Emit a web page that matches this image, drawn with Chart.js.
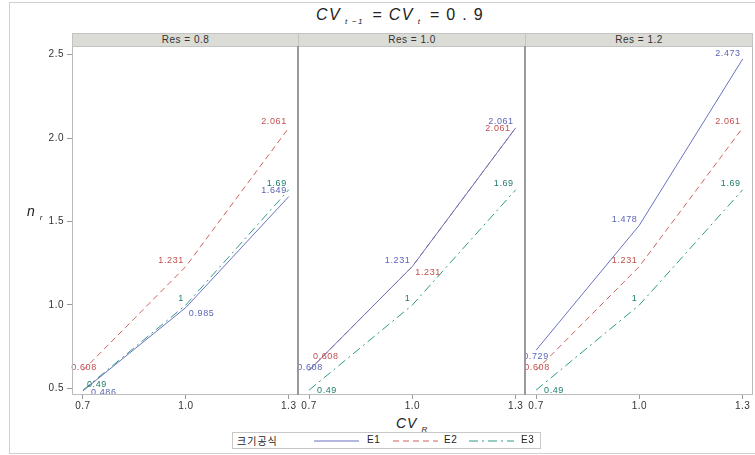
<!DOCTYPE html>
<html>
<head>
<meta charset="utf-8">
<script src="https://cdn.jsdelivr.net/npm/chart.js@4"></script>
<style>
  body { margin: 0; width: 755px; height: 455px; background: #fff; position: relative; overflow: hidden;
         font-family: "Liberation Sans", Arial, sans-serif; color: #222; }
  .abs { position: absolute; }
  .frame { left: 9px; top: 2px; width: 760px; height: 450px; border: 1px solid #d0d0d0; }
  .hdr { top: 33px; height: 12px; background: #dcdcd6; border: 1px solid #c4c4c4; font-size: 10px;
         line-height: 12px; text-align: center; letter-spacing: 0.5px; color: #333; box-sizing: content-box; }
  .vsep { width: 2px; background: #9a9a9a; }
  .light { background: #bcbcbc; }
  #title { left: 250px; top: 6px; width: 300px; text-align: center; font-size: 16px; letter-spacing: 1.3px; white-space: nowrap; }
  #title i, .axt i { font-style: italic; }
  sub { font-size: 8px; font-style: italic; vertical-align: -4px; margin-left: 4px; margin-right: 3px; }
  .axt { font-size: 14px; white-space: nowrap; letter-spacing: 1px; }
  #legend { left: 232px; top: 432px; width: 307px; height: 15px; border: 1px solid #c8c8c8; font-size: 10px; }
  #legend span { position: absolute; top: 1px; letter-spacing: 0.5px; }
  #legend svg { position: absolute; top: 7px; }
</style>
</head>
<body>
<div class="abs frame"></div>
<div id="title" class="abs"><i>CV</i><sub>t &minus;1</sub> = <i>CV</i><sub>t</sub> = 0 . 9</div>

<div class="abs hdr" style="left:72px;width:225px">Res = 0.8</div>
<div class="abs hdr" style="left:298px;width:226px">Res = 1.0</div>
<div class="abs hdr" style="left:525px;width:226px">Res = 1.2</div>

<div class="abs" style="left:0;top:46px;width:298px;height:368px"><canvas id="p0"></canvas></div>
<div class="abs" style="left:298px;top:46px;width:227px;height:368px"><canvas id="p1"></canvas></div>
<div class="abs" style="left:525px;top:46px;width:227px;height:368px"><canvas id="p2"></canvas></div>

<div class="abs light" style="left:72px;top:46px;width:1px;height:349px"></div>
<div class="abs light" style="left:72px;top:394px;width:681px;height:1px"></div>
<div class="abs light" style="left:752px;top:46px;width:1px;height:349px"></div>
<div class="abs vsep" style="left:297px;top:46px;height:349px"></div>
<div class="abs vsep" style="left:524px;top:46px;height:349px"></div>

<div class="abs axt" style="left:27px;top:203px"><i>n</i><sub>r</sub></div>
<div class="abs axt" style="left:396px;top:415px"><i>CV</i><sub>R</sub></div>

<div id="legend" class="abs">
  <span style="left:4px;top:0px;font-family:'Noto Sans CJK KR';font-size:10px;letter-spacing:1px">크기공식</span>
  <svg style="left:81px" width="45" height="2"><line x1="0" y1="1" x2="45" y2="1" stroke="#6a72c0" stroke-width="1"/></svg>
  <span style="left:134px">E1</span>
  <svg style="left:160px" width="45" height="2"><line x1="0" y1="1" x2="45" y2="1" stroke="#d0605a" stroke-width="1" stroke-dasharray="6 4"/></svg>
  <span style="left:211px">E2</span>
  <svg style="left:236px" width="45" height="2"><line x1="0" y1="1" x2="45" y2="1" stroke="#2f9a87" stroke-width="1" stroke-dasharray="9 4 2 4"/></svg>
  <span style="left:288px">E3</span>
</div>

<script>
// x values (CV_R) and the three panels
const cvR = [0.7, 1.0, 1.3];
const panelNames = ['Res = 0.8', 'Res = 1.0', 'Res = 1.2'];
const seriesNames = ['E1', 'E2', 'E3'];

// n_r for each size formula, one row per panel
const e1 = [[0.486, 0.985, 1.649], [0.608, 1.231, 2.061], [0.729, 1.478, 2.473]];
const e2 = [[0.608, 1.231, 2.061], [0.608, 1.231, 2.061], [0.608, 1.231, 2.061]];
const e3 = [[0.49, 1, 1.69], [0.49, 1, 1.69], [0.49, 1, 1.69]];

const yTicks = [0.5, 1.0, 1.5, 2.0, 2.5];

// styling
const lineColors = ['#6a72c0', '#d0605a', '#2f9a87'];
const textColors = ['#5a64b4', '#c0504d', '#1e7b6b'];
const dashes = [[], [6, 4], [9, 4, 2, 4]];

// where each point label goes (panel -> series -> point)
const labelPlace = [
  [['rd', 'lr', 'ul'], ['c', 'ul', 'ul'], ['ur', 'ul', 'ul']],
  [['c', 'ul', 'ul'], ['uur', 'lr', 'l'], ['r', 'ul', 'ul']],
  [['b', 'ul', 'ul'], ['c', 'ul', 'ul'], ['r', 'ul', 'ul']]
];
const placeOffsets = {
  ul: ['right', -2, -6], l: ['right', -5, 1], lr: ['left', 3, 6],
  c: ['center', 1, -3], b: ['center', 0, 6], r: ['left', 8, 0],
  rd: ['left', 8, 2], ur: ['left', 4, -6], uur: ['left', 4, -14]
};

// letter spacing like the SAS output
const spacing = {
  id: 'spacing',
  beforeUpdate(chart) { chart.ctx.letterSpacing = '0.5px'; },
  beforeDraw(chart) { chart.ctx.letterSpacing = '0.5px'; }
};

// draws the value next to every point
const pointLabels = {
  id: 'pointLabels',
  afterDatasetsDraw(chart) {
    const ctx = chart.ctx;
    const p = chart.options.plugins.pointLabels.panel;
    ctx.save();
    ctx.font = '9px "Liberation Sans", Arial, sans-serif';
    ctx.letterSpacing = '0.6px';
    ctx.textBaseline = 'middle';
    chart.data.datasets.forEach((ds, si) => {
      chart.getDatasetMeta(si).data.forEach((pt, i) => {
        const o = placeOffsets[labelPlace[p][si][i]];
        ctx.textAlign = o[0];
        ctx.fillStyle = textColors[si];
        ctx.fillText(String(ds.data[i].y), pt.x + o[1], pt.y + o[2]);
      });
    });
    ctx.restore();
  }
};

function makePanel(p) {
  const sets = [e1[p], e2[p], e3[p]].map((vals, si) => ({
    label: seriesNames[si],
    data: cvR.map((x, i) => ({ x: x, y: vals[i] })),
    borderColor: lineColors[si],
    borderWidth: 1,
    borderDash: dashes[si],
    pointRadius: 0,
    fill: false,
    tension: 0
  }));
  const first = p === 0;
  new Chart(document.getElementById('p' + p), {
    type: 'line',
    data: { datasets: sets },
    options: {
      responsive: true,
      maintainAspectRatio: false,
      animation: false,
      layout: { padding: 0 },
      plugins: {
        legend: { display: false },
        tooltip: { enabled: false },
        title: { display: false },
        pointLabels: { panel: p }
      },
      scales: {
        x: {
          type: 'linear',
          min: 0.668,
          max: 1.327,
          afterBuildTicks: s => { s.ticks = cvR.map(v => ({ value: v })); },
          afterFit: s => { s.height = 20; s.paddingLeft = 0; s.paddingRight = 0; },
          border: { display: false },
          grid: { drawOnChartArea: false, color: '#9a9a9a', tickLength: 5 },
          ticks: {
            color: '#333', padding: 1, maxRotation: 0,
            font: { size: 10, family: '"Liberation Sans", Arial, sans-serif' },
            callback: v => v.toFixed(1)
          }
        },
        y: {
          display: first,
          min: 0.467,
          max: 2.551,
          afterBuildTicks: s => { s.ticks = yTicks.map(v => ({ value: v })); },
          afterFit: s => { s.width = first ? 72 : 0; s.paddingTop = 0; s.paddingBottom = 0; },
          border: { display: false },
          grid: { drawOnChartArea: false, color: '#9a9a9a', tickLength: 5 },
          ticks: {
            color: '#333', padding: 3,
            font: { size: 10, family: '"Liberation Sans", Arial, sans-serif' },
            callback: v => v.toFixed(1)
          }
        }
      }
    },
    plugins: [spacing, pointLabels]
  });
}

panelNames.forEach((name, p) => makePanel(p));
</script>
</body>
</html>
